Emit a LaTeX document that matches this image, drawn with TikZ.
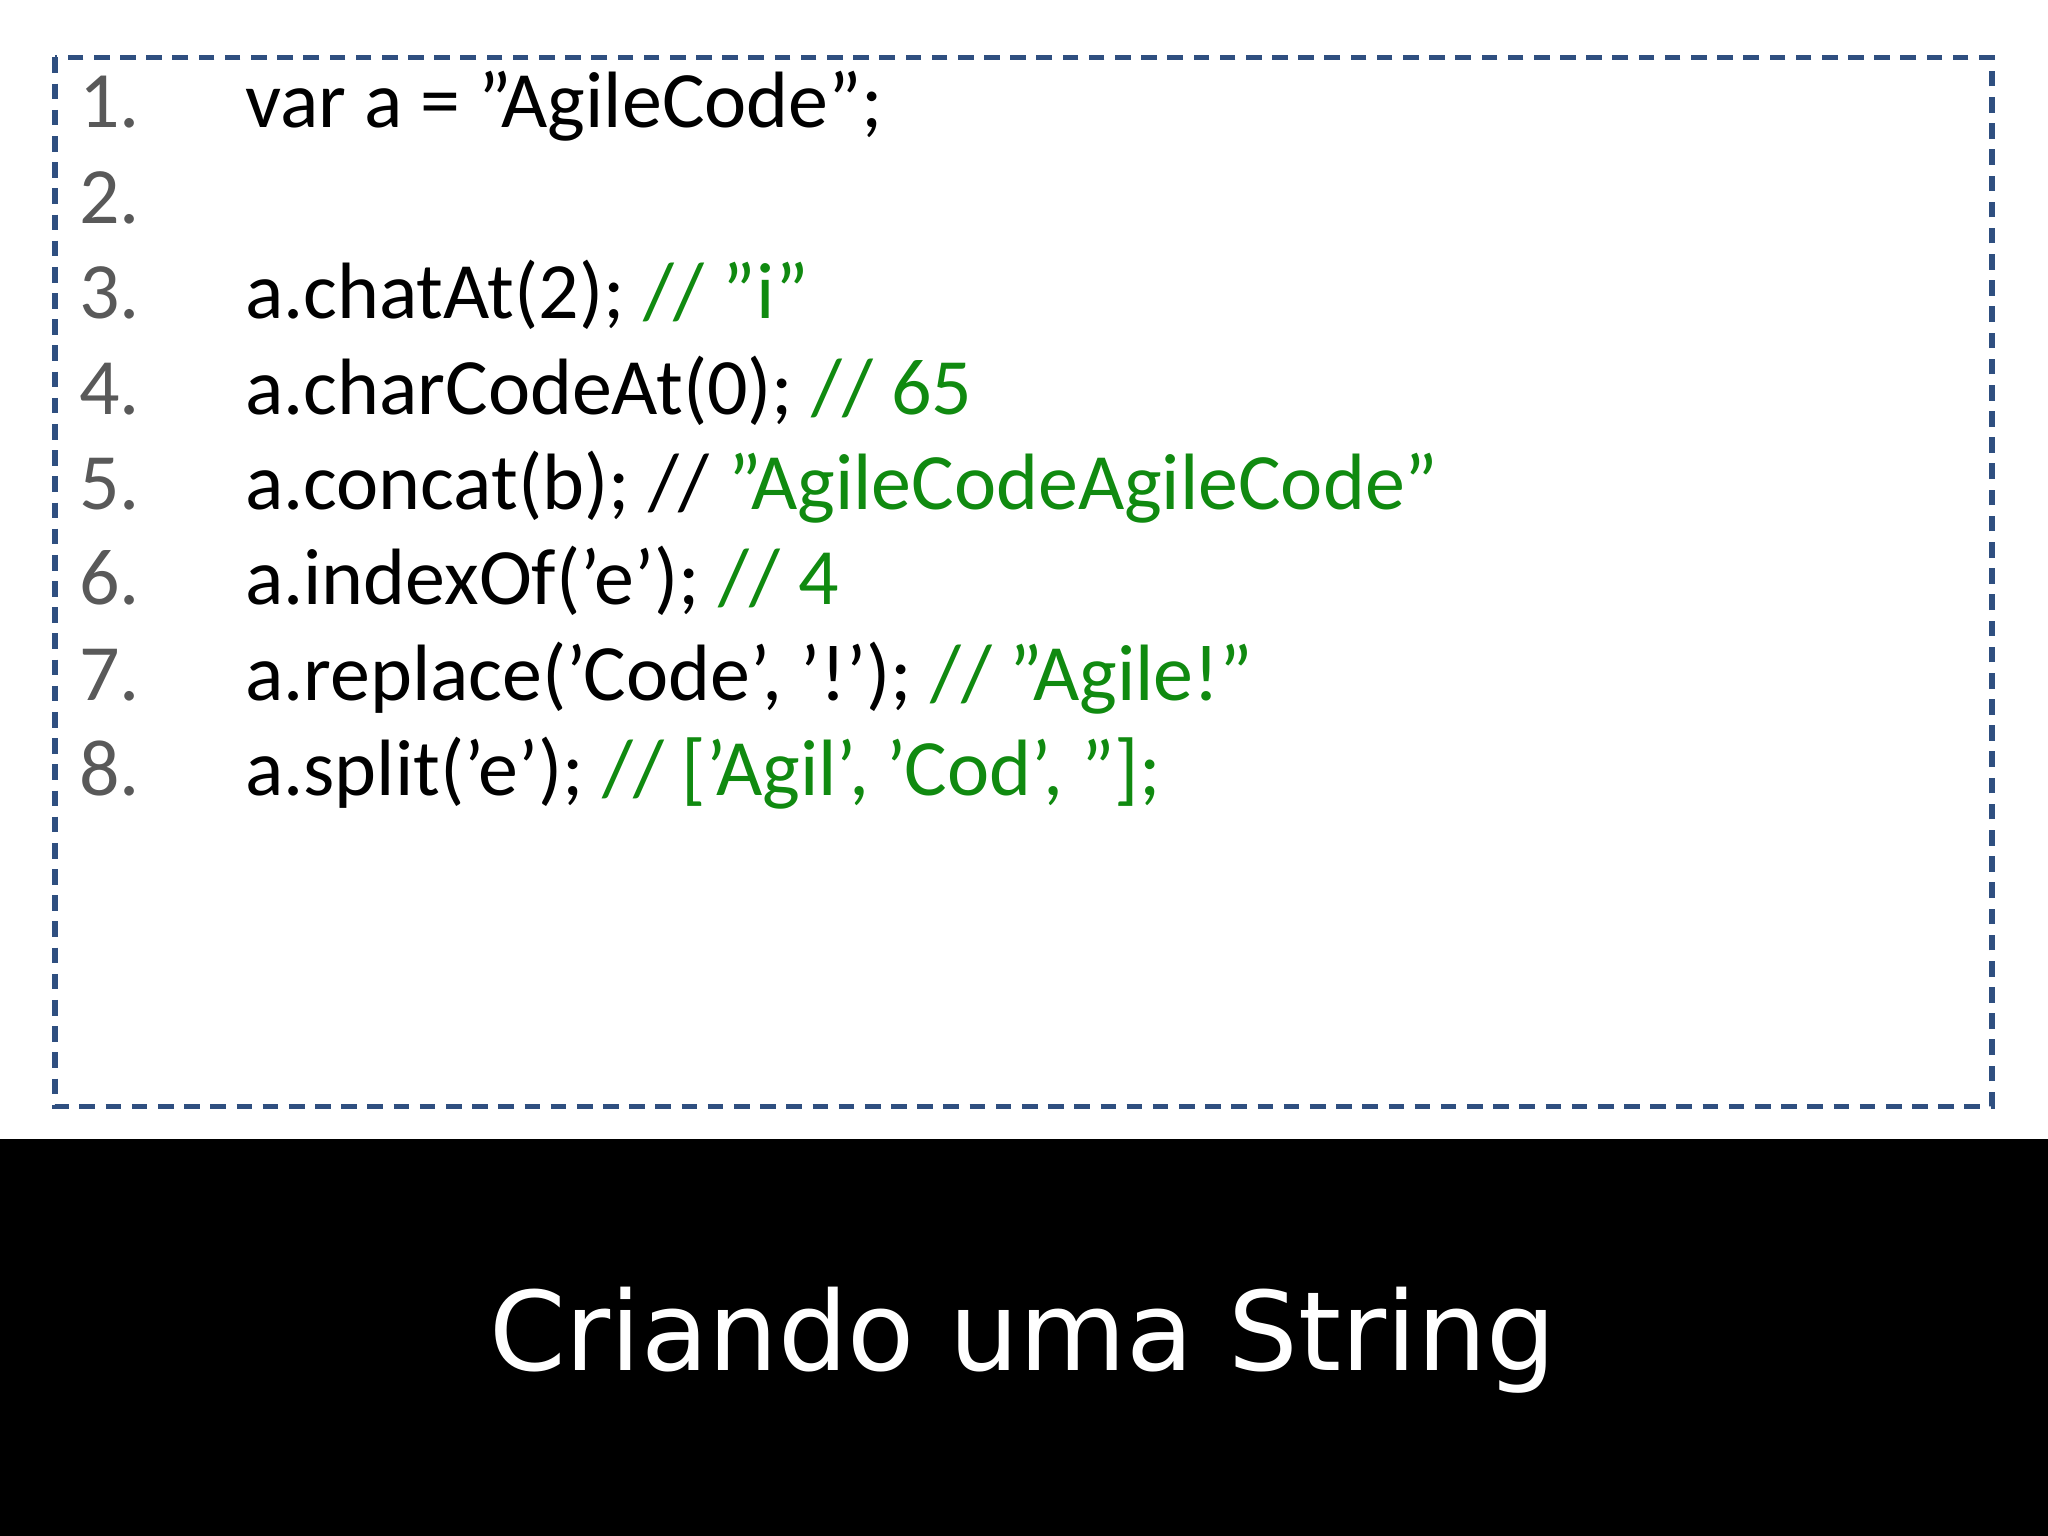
\documentclass[tikz,border=0pt]{standalone}
\usepackage{fontspec}
\setmainfont{Carlito}[Ligatures=ResetAll]
\newfontfamily\titlefont{DejaVu Sans}
\definecolor{boxblue}{HTML}{2F4F80}
\definecolor{cgreen}{HTML}{108A10}
\definecolor{numgray}{HTML}{595959}
\begin{document}
\begin{tikzpicture}[x=0.01cm,y=-0.01cm,
  num/.style={anchor=base west,inner sep=0,text=numgray,font=\fontsize{17.4}{20}\selectfont},
  code/.style={anchor=base west,inner sep=0,font=\fontsize{17.4}{20}\selectfont}]
\useasboundingbox (0,0) rectangle (1568,1176);
\fill[white] (0,0) rectangle (1568,872);
\fill[black] (0,872) rectangle (1568,1176);
\draw[boxblue,line width=1.2pt,dash pattern=on 3.4pt off 2.3pt] (42,44) rectangle (1525,847);
\foreach \i/\t in {1/{var a = "AgileCode";},2/{},3/{a.chatAt(2); \textcolor{cgreen}{// "i"}},4/{a.charCodeAt(0); \textcolor{cgreen}{// 65}},5/{a.concat(b); // \textcolor{cgreen}{"AgileCodeAgileCode"}},6/{a.indexOf('e'); \textcolor{cgreen}{// 4}},7/{a.replace('Code', '!'); \textcolor{cgreen}{// "Agile!"}},8/{a.split('e'); \textcolor{cgreen}{// ['Agil', 'Cod', ''];}}}{
  \node[num] (n\i) at (60,{98+73*(\i-1)}) {\i.};
  \node[code] (c\i) at (187,{98+73*(\i-1)}) {\t};
}
\node[text=white,font=\titlefont\fontsize{23.9}{28}\selectfont] (title) at (783,1026) {Criando uma String};
\end{tikzpicture}
\end{document}
